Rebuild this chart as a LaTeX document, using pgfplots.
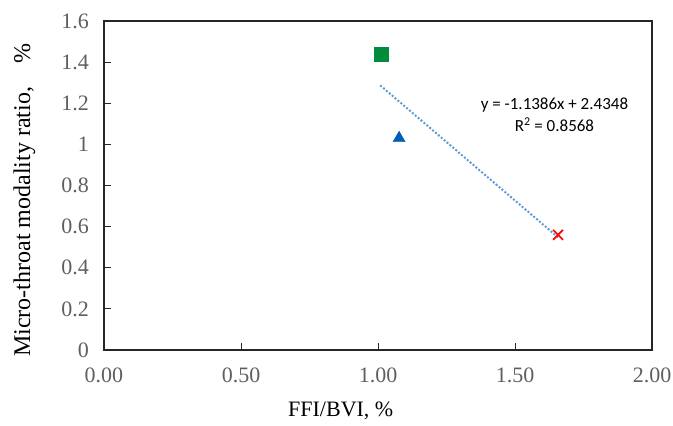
\documentclass[border=0pt]{standalone}
\usepackage{pgfplots}
\pgfplotsset{compat=1.18}
\usepackage{fontspec}
\setmainfont{Liberation Serif}
\newfontfamily\eqfont{Carlito}
\definecolor{tickgray}{RGB}{95,95,95}
\definecolor{mgreen}{RGB}{0,140,58}
\definecolor{mblue}{RGB}{0,92,185}
\definecolor{trendblue}{RGB}{91,155,213}
\begin{document}
\begin{tikzpicture}
\begin{axis}[
  name=a,
  scale only axis,
  width=548pt, height=329pt,
  xmin=0, xmax=2, ymin=0, ymax=1.6,
  xtick={0,0.5,1,1.5,2},
  ytick={0,0.2,0.4,0.6,0.8,1,1.2,1.4,1.6},
  xticklabels={0.00,0.50,1.00,1.50,2.00},
  yticklabels={0,0.2,0.4,0.6,0.8,1,1.2,1.4,1.6},
  /pgf/number format/assume math mode=true,
  xtick pos=bottom, ytick pos=left,
  tick align=inside,
  major tick length=7pt,
  axis line style={line width=1.2pt, black!85},
  tick style={line width=1pt, black!85},
  ticklabel style={font=\rmfamily\fontsize{22}{24}\selectfont, text=tickgray},
  xticklabel style={yshift=-14.5pt},
  yticklabel style={xshift=-11.5pt},
  xlabel={FFI/BVI, \%},
  ylabel={Micro-throat modality ratio,\hspace{0.95em}\%},
  xlabel style={font=\fontsize{22}{24}\selectfont, at={(axis description cs:0.432,-0.2006)}, anchor=base},
  ylabel style={font=\fontsize{24}{26}\selectfont, at={(axis description cs:-0.135,0.455)}, anchor=base},
  clip=false,
]
\addplot[only marks, mark=square*, mark size=7pt, color=mgreen] coordinates {(1.011,1.44)};
\addplot[only marks, mark=triangle*, mark size=7pt, color=mblue] coordinates {(1.077,1.03)};
\addplot[no marks, color=trendblue, line width=2.8pt, line cap=round, dash pattern=on 0pt off 3.8pt] coordinates {(1.011,1.2837) (1.657,0.5481)};
\addplot[only marks, mark=x, mark size=7pt, line width=1.6pt, color=red] coordinates {(1.657,0.56)};
\node[font=\eqfont\fontsize{17}{22}\selectfont, align=center, anchor=center] at (axis cs:1.644,1.143) {y = -1.1386x + 2.4348\\R\textsuperscript{2} = 0.8568};
\end{axis}
\pgfresetboundingbox
\path ([xshift=-104pt,yshift=-75pt]a.south west) rectangle ([xshift=21pt,yshift=21pt]a.north east);
\end{tikzpicture}
\end{document}
